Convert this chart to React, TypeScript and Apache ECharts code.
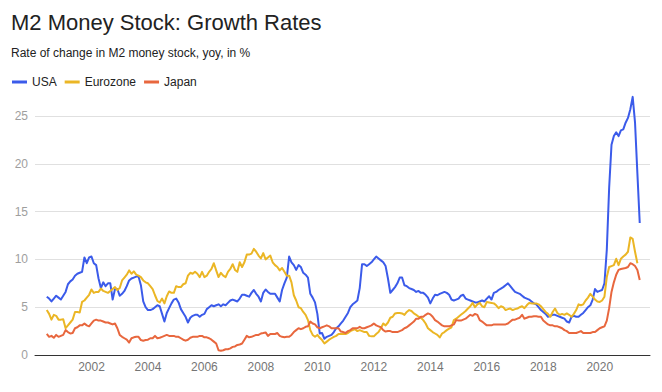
import React, { useEffect, useRef } from "react";
import * as echarts from "echarts";

const titleText = "M2 Money Stock: Growth Rates";
const subtitleText = "Rate of change in M2 money stock, yoy, in %";
const seriesNames = ["USA", "Eurozone", "Japan"];
const seriesColors = ["#3b5bea", "#ebb625", "#e8673e"];
const startYear = 2000;
const startMonth = 6; // first observation: June 2000, monthly
const xTickYears = [2002, 2004, 2006, 2008, 2010, 2012, 2014, 2016, 2018, 2020];
const yTicks = [0, 5, 10, 15, 20, 25];

// USA, Jun 2000 .. Jun 2021
const usa = [
  6.1, 5.9, 5.6, 5.9, 6.2, 6.0, 5.8,
  6.2, 6.6, 7.4, 7.7, 7.9, 8.3, 8.5, 8.6, 8.7, 10.2, 9.6, 10.2,
  10.3, 9.6, 9.4, 8.0, 7.0, 7.6, 7.2, 7.5, 7.5, 5.8, 6.9, 6.9,
  6.2, 6.4, 6.7, 7.2, 7.8, 8.0, 8.1, 8.2, 8.2, 7.3, 5.6, 5.0,
  4.7, 4.7, 4.8, 5.0, 5.2, 5.1, 4.3, 3.5, 4.4, 4.9, 5.4, 5.8,
  5.9, 5.5, 4.8, 4.4, 4.0, 3.4, 3.9, 4.1, 4.2, 4.2, 4.0, 4.2,
  4.3, 4.8, 5.0, 5.2, 5.1, 5.2, 5.3, 5.1, 5.3, 5.2, 5.45, 5.7,
  5.8, 5.7, 5.6, 5.9, 6.3, 6.3, 6.2, 6.1, 6.5, 6.8, 6.4, 6.1,
  5.6, 6.5, 6.85, 6.6, 6.4, 6.4, 6.4, 6.0, 5.6, 6.8, 7.5, 8.1,
  10.3, 9.7, 9.4, 8.9, 9.4, 9.2, 8.6, 8.4, 8.1, 6.4, 6.0, 5.5,
  4.3, 2.25, 2.3, 1.7, 1.9, 2.0, 2.1, 2.4, 2.8, 3.0, 3.3, 3.6,
  4.0, 4.4, 5.0, 5.3, 5.5, 5.7, 7.0, 9.5, 9.5, 9.3, 9.5, 9.7,
  10.0, 10.3, 10.1, 9.9, 9.7, 9.3, 8.0, 6.5, 6.8, 7.1, 7.5, 8.1,
  8.1, 7.3, 7.2, 7.0, 6.9, 6.8, 6.6, 6.7, 6.5, 6.5, 6.3, 6.0,
  5.4, 5.9, 6.3, 6.25, 6.4, 6.5, 6.6, 6.5, 6.3, 5.8, 5.7, 5.8,
  5.9, 6.2, 6.3, 5.9, 5.8, 5.7, 5.6, 5.5, 5.5, 5.6, 5.7, 5.6,
  5.9, 6.15, 5.8, 6.5, 6.6, 6.8, 6.95, 7.1, 7.3, 7.5, 7.2, 6.9,
  6.6, 6.5, 6.4, 6.2, 6.0, 5.9, 5.8, 5.6, 5.4, 5.3, 5.0, 4.7,
  4.5, 4.3, 4.0, 4.1, 4.2, 4.2, 4.1, 4.0, 3.9, 3.8, 3.5, 3.4,
  4.0, 4.1, 4.0, 4.0, 4.2, 4.4, 4.7, 5.0, 5.2, 5.8, 6.9, 6.6,
  6.7, 6.8, 7.5, 11.0, 17.5, 22.0, 22.9, 23.3, 22.9, 23.5, 23.6, 24.3,
  24.8, 25.7, 27.0, 24.3, 19.0, 13.8,
];

// Eurozone, Jun 2000 .. May 2021
const eurozone = [
  4.7, 4.3, 3.7, 4.2, 4.1, 3.7, 3.7,
  3.75, 2.8, 3.1, 3.4, 3.7, 4.5, 4.5, 4.45, 5.55, 5.7, 6.0, 6.3,
  6.85, 6.5, 6.6, 6.6, 6.95, 6.7, 6.6, 6.5, 6.7, 6.9, 7.1, 6.8,
  7.0, 7.8, 8.1, 8.4, 8.85, 8.5, 8.75, 8.4, 8.3, 8.15, 7.8, 7.6,
  7.5, 7.2, 6.9, 6.25, 5.65, 5.5, 5.9, 5.4, 6.15, 6.65, 6.5, 6.5,
  7.2, 7.1, 7.1, 7.4, 7.5, 8.3, 8.6, 8.5, 8.7, 8.5, 8.15, 8.7,
  8.15, 8.3, 8.7, 9.0, 9.6, 8.85, 8.15, 8.6, 8.3, 8.15, 8.7, 9.0,
  9.5, 8.9, 8.7, 9.7, 9.2, 9.7, 10.5, 10.5, 10.6, 11.1, 10.8, 10.4,
  10.1, 10.66, 10.0, 10.2, 10.4, 9.7, 9.4, 9.2, 8.85, 9.1, 8.7, 8.3,
  8.3, 7.6, 6.25, 5.7, 5.0, 4.9, 4.5, 4.2, 3.65, 2.6, 2.1, 1.9,
  2.1, 1.8, 1.56, 1.2, 1.4, 1.6, 1.75, 1.9, 2.0, 2.2, 2.2, 2.2,
  2.2, 2.3, 2.5, 2.6, 2.7, 2.5, 2.6, 2.5, 2.4, 2.4, 2.0, 1.95,
  1.95, 2.2, 2.4, 2.8, 3.3, 3.1, 3.4, 3.9, 4.0, 4.35, 4.4, 4.4,
  4.35, 4.2, 4.5, 4.7, 4.6, 4.35, 4.2, 4.0, 3.9, 3.65, 3.3, 2.8,
  2.6, 2.4, 2.25, 2.1, 1.84, 2.25, 2.4, 2.6, 2.75, 2.9, 3.65, 3.8,
  4.0, 4.2, 4.4, 4.6, 4.86, 5.1, 5.45, 5.0, 5.3, 5.45, 5.1, 5.0,
  5.55, 5.5, 5.45, 5.4, 5.2, 4.9, 5.1, 5.0, 4.7, 4.8, 4.86, 4.7,
  4.8, 4.86, 5.0, 5.1, 4.9, 5.2, 5.45, 5.4, 5.4, 5.4, 5.3, 5.1,
  4.8, 4.5, 4.3, 4.0, 4.5, 4.86, 4.4, 4.2, 4.3, 4.2, 4.35, 4.2,
  4.0, 4.3, 4.7, 5.3, 5.2, 5.3, 5.7, 6.0, 6.4, 6.1, 5.8, 5.6,
  5.55, 5.7, 6.1, 8.15, 9.2, 9.3, 9.4, 10.07, 9.4, 10.07, 10.3, 10.5,
  10.8, 12.3, 12.15, 10.8, 9.6,
];

// Japan, Jun 2000 .. Jun 2021
const japan = [
  2.2, 1.9, 2.0, 1.8, 2.1, 1.9, 2.0,
  2.1, 2.6, 2.4, 2.25, 2.3, 2.8, 2.9, 3.1, 3.1, 3.3, 3.1, 3.0,
  3.3, 3.6, 3.7, 3.6, 3.6, 3.5, 3.4, 3.4, 3.3, 3.2, 3.3, 2.8,
  2.1, 1.9, 1.75, 1.6, 1.3, 1.75, 1.85, 1.9, 1.9, 1.56, 1.5, 1.56,
  1.6, 1.75, 1.75, 2.0, 1.75, 1.8, 1.9, 2.0, 2.1, 2.0, 2.0, 2.0,
  1.9, 1.9, 1.75, 1.6, 1.5, 1.6, 1.8, 1.9, 1.9, 1.9, 2.0, 2.0,
  1.85, 1.85, 1.75, 1.6, 1.4, 1.2, 0.5, 0.45, 0.5, 0.6, 0.6, 0.7,
  0.85, 0.9, 1.05, 1.1, 1.2, 1.6, 2.0, 1.85, 1.9, 2.0, 2.1, 2.1,
  2.25, 2.3, 2.36, 2.0, 2.2, 2.2, 2.2, 2.3, 2.0, 1.9, 1.85, 1.9,
  1.9, 2.1, 2.4, 2.6, 2.8, 2.7, 2.8, 2.95, 3.0, 3.5, 3.3, 3.2,
  2.9, 2.8, 2.9, 3.0, 3.1, 3.0, 2.8, 2.8, 2.8, 2.8, 2.45, 2.4,
  2.3, 2.5, 2.6, 2.8, 2.8, 2.8, 2.95, 2.8, 2.8, 2.9, 3.0, 3.1,
  3.3, 3.1, 3.0, 2.9, 2.6, 2.45, 2.5, 2.5, 2.4, 2.4, 2.4, 2.5,
  2.6, 2.8, 2.9, 3.1, 3.3, 3.5, 3.8, 3.8, 4.0, 4.0, 4.2, 4.35,
  4.25, 4.0, 3.65, 3.5, 3.3, 3.1, 3.0, 3.0, 3.0, 3.1, 3.2, 3.65,
  3.6, 3.6, 3.7, 3.8, 4.0, 4.2, 4.1, 4.3, 4.2, 3.65, 3.5, 3.3,
  3.1, 3.1, 3.1, 3.2, 3.2, 3.2, 3.2, 3.2, 3.2, 3.3, 3.5, 3.7,
  3.7, 3.8, 3.9, 4.2, 3.8, 3.9, 4.0, 4.0, 4.05, 4.05, 4.0, 4.0,
  3.6, 3.4, 3.2, 3.1, 3.1, 3.0, 3.0, 2.9, 2.8, 2.6, 2.5, 2.3,
  2.3, 2.3, 2.3, 2.4, 2.5, 2.3, 2.3, 2.3, 2.3, 2.4, 2.4, 2.6,
  2.8, 2.9, 3.0, 3.6, 4.9, 6.6, 7.6, 8.4, 8.9, 9.0, 9.05, 9.1,
  9.2, 9.6, 9.5, 9.3, 8.9, 7.85,
];

const seriesValues = [usa, eurozone, japan];

const toPoints = (values: number[]) =>
  values.map((v, i) => [startYear + (startMonth - 1 + i) / 12, v]);

const FONT = "'Liberation Sans', Arial, sans-serif";

export default function App() {
  const ref = useRef<HTMLDivElement>(null);

  useEffect(() => {
    if (!ref.current) return;
    const chart = echarts.init(ref.current, undefined, { renderer: "svg" });
    chart.setOption({
      animation: false,
      backgroundColor: "#ffffff",
      textStyle: { fontFamily: FONT },
      title: [
        {
          text: titleText,
          left: 11,
          top: 11,
          padding: 0,
          textStyle: { fontSize: 22, fontWeight: "normal", color: "#222222", fontFamily: FONT },
        },
        {
          text: subtitleText,
          left: 11,
          top: 47,
          padding: 0,
          textStyle: { fontSize: 12, fontWeight: "normal", color: "#222222", fontFamily: FONT },
        },
      ],
      legend: {
        left: 12,
        top: 76,
        padding: 0,
        itemWidth: 15,
        itemHeight: 3,
        itemGap: 8,
        icon: "rect",
        textStyle: { fontSize: 12, color: "#222222", fontFamily: FONT },
        data: seriesNames,
      },
      grid: { left: 35, right: 12, top: 116, bottom: 37 },
      xAxis: {
        type: "value",
        min: 2000,
        max: 2021.78,
        interval: 2,
        axisLine: { show: true, onZero: false, lineStyle: { color: "#333333", width: 1 } },
        axisTick: { show: false },
        splitLine: { show: false },
        axisLabel: {
          margin: 6,
          fontSize: 12,
          color: "#757575",
          fontFamily: FONT,
          showMinLabel: false,
          showMaxLabel: false,
          formatter: (v: number) => (xTickYears.includes(Math.round(v)) && Math.abs(v - Math.round(v)) < 1e-6 ? String(Math.round(v)) : ""),
        },
      },
      yAxis: {
        type: "value",
        min: yTicks[0],
        max: yTicks[yTicks.length - 1],
        interval: 5,
        axisLine: { show: false },
        axisTick: { show: false },
        splitLine: { show: true, lineStyle: { color: "#e0e0e0", width: 1 } },
        axisLabel: { margin: 7, fontSize: 12, color: "#9e9e9e", fontFamily: FONT },
      },
      series: seriesNames.map((name, k) => ({
        name,
        type: "line",
        data: toPoints(seriesValues[k]),
        showSymbol: false,
        symbol: "none",
        clip: false,
        color: seriesColors[k],
        lineStyle: { width: 2, color: seriesColors[k], join: "round" },
      })),
    });
    return () => chart.dispose();
  }, []);

  return (
    <div
      ref={ref}
      style={{ position: "fixed", left: 0, top: 0, width: 662, height: 392, background: "#fff" }}
    />
  );
}
